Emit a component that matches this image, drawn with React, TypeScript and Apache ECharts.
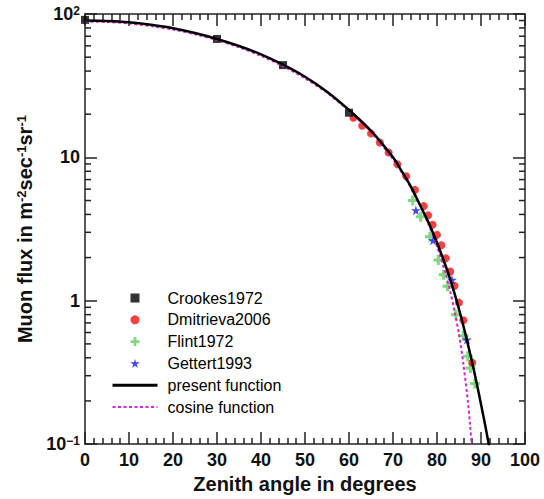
import React, { useEffect, useRef } from 'react';
import * as echarts from 'echarts';

// ---- data ----
const crookesAngle = [0, 30, 45, 60];
const crookesFlux = [91, 67, 44, 20.5];

const dmitrievaAngle = [61, 63, 65, 67, 69, 71, 73, 75, 77, 78, 79, 80, 81, 82, 83, 84, 85, 86, 88];
const dmitrievaFlux = [18.9, 16.6, 14.7, 12.7, 10.8, 8.94, 7.38, 5.93, 4.57, 3.94, 3.39, 2.88, 2.44, 1.98, 1.6, 1.27, 0.97, 0.73, 0.37];

const flintAngle = [74.5, 76.3, 78.4, 80.3, 81.5, 82.4, 84.3, 86, 87, 87.6, 88.6];
const flintFlux = [5.0, 3.85, 2.8, 1.92, 1.52, 1.26, 0.8, 0.57, 0.41, 0.34, 0.265];

const gettertAngle = [75.2, 79.1, 83.4, 86.8];
const gettertFlux = [4.27, 2.64, 1.4, 0.536];

const presentAngle = [0, 5, 10, 15, 20, 25, 30, 35, 40, 45, 50, 55, 60, 65, 70, 72, 74, 76, 78, 79, 80, 81, 82, 83, 84, 85, 86, 87, 88, 89, 90, 91, 92, 93];
const presentFlux = [90, 89.3, 87.5, 84, 79.5, 73.6, 67, 59.8, 52.3, 44.3, 36.5, 28.7, 21.4, 15.3, 10.0, 8.0, 6.3, 4.75, 3.55, 3.02, 2.54, 2.11, 1.74, 1.41, 1.12, 0.87, 0.667, 0.5, 0.37, 0.268, 0.19, 0.133, 0.091, 0.062];

const cosineAngle = [0, 5, 10, 15, 20, 25, 30, 35, 40, 45, 50, 55, 60, 65, 70, 72, 74, 76, 78, 80, 82, 83, 84, 85, 86, 87, 87.5, 88, 88.5];
const cosineFlux = [88.5, 88, 85.8, 82.3, 77.8, 72.2, 65.8, 58.6, 51, 43.2, 35.6, 28.2, 21.1, 15, 9.7, 7.85, 6.2, 4.7, 3.45, 2.4, 1.52, 1.16, 0.84, 0.58, 0.36, 0.2, 0.138, 0.087, 0.05];

// minor tick values of the log axis (2..9 of every decade)
const yMinorTicks = [0.2, 0.3, 0.4, 0.5, 0.6, 0.7, 0.8, 0.9, 2, 3, 4, 5, 6, 7, 8, 9, 20, 30, 40, 50, 60, 70, 80, 90];

const seriesNames = ['Crookes1972', 'Dmitrieva2006', 'Flint1972', 'Gettert1993', 'present function', 'cosine function'];

const FONT = "'Liberation Sans', Arial, Helvetica, sans-serif";
const AX = '#222';

const squarePath = 'path://M0,0H10V10H0Z';
const plusPath = 'path://M3.5,0H6.5V3.5H10V6.5H6.5V10H3.5V6.5H0V3.5H3.5Z';
const starPath = 'path://M50,0L61,35L98,35L68,57L79,91L50,70L21,91L32,57L2,35L39,35Z';

const pairs = (xs: number[], ys: number[]) => xs.map((x, i) => [x, ys[i]]);

const majorTick = { show: true, inside: true, length: 12, lineStyle: { color: AX, width: 1.5 } };
const axisLineStyle = { show: true, onZero: false, lineStyle: { color: AX, width: 1.5 } };

const yLabelFormatter = (v: number) => {
  const e = Math.round(Math.log10(v));
  if (e === 0) return '{b|1}';
  if (e === 1) return '{b|10}';
  return `{b|10}{s|${e < 0 ? '\u2212' : ''}${Math.abs(e)}}`;
};

export default function App() {
  const ref = useRef<HTMLDivElement>(null);
  useEffect(() => {
    if (!ref.current) return;
    const chart = echarts.init(ref.current, null, { renderer: 'svg' });
    const option: any = {
      animation: false,
      backgroundColor: '#ffffff',
      grid: { left: 85, right: 19, top: 14, bottom: 52, containLabel: false },
      legend: {
        orient: 'vertical',
        left: 106,
        top: 285,
        itemWidth: 45,
        itemHeight: 9,
        itemGap: 5.8,
        selectedMode: false,
        textStyle: { fontFamily: FONT, fontSize: 16, color: '#000', padding: [0, 0, 0, 5] },
        data: [
          { name: seriesNames[0] },
          { name: seriesNames[1] },
          { name: seriesNames[2] },
          { name: seriesNames[3] },
          { name: seriesNames[4], itemStyle: { opacity: 0 }, lineStyle: { width: 3 } },
          { name: seriesNames[5], itemStyle: { opacity: 0 }, lineStyle: { width: 2 } },
        ],
      },
      xAxis: [
        {
          type: 'value', min: 0, max: 100, interval: 10, position: 'bottom',
          axisLine: axisLineStyle,
          axisTick: majorTick,
          minorTick: { show: true, splitNumber: 5, length: 6, lineStyle: { color: AX, width: 1.5 } },
          splitLine: { show: false },
          minorSplitLine: { show: false },
          axisLabel: { margin: 7, fontFamily: FONT, fontSize: 18, fontWeight: 'bold', color: '#111' },
          name: 'Zenith angle in degrees',
          nameLocation: 'middle',
          nameGap: 29,
          nameTextStyle: { fontFamily: FONT, fontSize: 20, fontWeight: 'bold', color: '#111' },
        },
        {
          type: 'value', min: 0, max: 100, interval: 10, position: 'top',
          axisLine: axisLineStyle,
          axisTick: majorTick,
          minorTick: { show: true, splitNumber: 5, length: 6, lineStyle: { color: AX, width: 1.5 } },
          splitLine: { show: false },
          axisLabel: { show: false },
        },
      ],
      yAxis: [
        {
          type: 'log', logBase: 10, min: 0.1, max: 100, position: 'left',
          axisLine: axisLineStyle,
          axisTick: majorTick,
          splitLine: { show: false },
          axisLabel: {
            margin: 5,
            formatter: yLabelFormatter,
            rich: {
              b: { fontFamily: FONT, fontSize: 18, fontWeight: 'bold', color: '#111' },
              s: { fontFamily: FONT, fontSize: 12, fontWeight: 'bold', color: '#111', verticalAlign: 'top' },
            },
          },
          name: '{b|Muon flux in m}{s|-2}{b|sec}{s|-1}{b|sr}{s|-1}',
          nameLocation: 'middle',
          nameRotate: 90,
          nameGap: 37,
          nameTextStyle: {
            rich: {
              b: { fontFamily: FONT, fontSize: 20, fontWeight: 'bold', color: '#111' },
              s: { fontFamily: FONT, fontSize: 13, fontWeight: 'bold', color: '#111', verticalAlign: 'top' },
            },
          },
        },
        {
          type: 'log', logBase: 10, min: 0.1, max: 100, position: 'right',
          axisLine: axisLineStyle,
          axisTick: majorTick,
          splitLine: { show: false },
          axisLabel: { show: false },
        },
      ],
      series: [
        {
          // minor ticks on the left and right frame of the log axis
          name: 'minorTicks', type: 'custom', silent: true, clip: false, z: 5,
          xAxisIndex: 0, yAxisIndex: 0,
          data: yMinorTicks.map((v) => [0, v]),
          encode: { x: 0, y: 1 },
          renderItem: (_params: any, api: any) => {
            const v = api.value(1);
            const pl = api.coord([0, v]);
            const pr = api.coord([100, v]);
            return {
              type: 'group',
              children: [
                { type: 'line', shape: { x1: pl[0], y1: pl[1], x2: pl[0] + 6, y2: pl[1] }, style: { stroke: AX, lineWidth: 1.5 } },
                { type: 'line', shape: { x1: pr[0] - 6, y1: pr[1], x2: pr[0], y2: pr[1] }, style: { stroke: AX, lineWidth: 1.5 } },
              ],
            };
          },
        },
        {
          name: seriesNames[2], type: 'scatter', symbol: plusPath, symbolSize: 10,
          itemStyle: { color: '#5fcf5f' }, data: pairs(flintAngle, flintFlux),
        },
        {
          name: seriesNames[1], type: 'scatter', symbol: 'circle', symbolSize: 8,
          itemStyle: { color: '#ee1111' }, data: pairs(dmitrievaAngle, dmitrievaFlux),
        },
        {
          name: seriesNames[3], type: 'scatter', symbol: starPath, symbolSize: 10,
          itemStyle: { color: '#1a1aee' }, data: pairs(gettertAngle, gettertFlux),
        },
        {
          name: seriesNames[0], type: 'scatter', symbol: squarePath, symbolSize: 8,
          itemStyle: { color: '#000' }, data: pairs(crookesAngle, crookesFlux),
        },
        {
          name: seriesNames[5], type: 'line', symbol: 'none', smooth: 0.3, clip: true,
          itemStyle: { color: '#dd22dd' },
          lineStyle: { color: '#dd22dd', width: 2, type: [3, 2.5] },
          data: pairs(cosineAngle, cosineFlux),
        },
        {
          name: seriesNames[4], type: 'line', symbol: 'none', smooth: 0.3, clip: true,
          itemStyle: { color: '#000' },
          lineStyle: { color: '#000', width: 2.5 },
          data: pairs(presentAngle, presentFlux),
        },
      ],
    };
    chart.setOption(option);
    return () => chart.dispose();
  }, []);
  return <div ref={ref} style={{ position: 'fixed', left: 0, top: 0, width: 544, height: 499 }} />;
}
